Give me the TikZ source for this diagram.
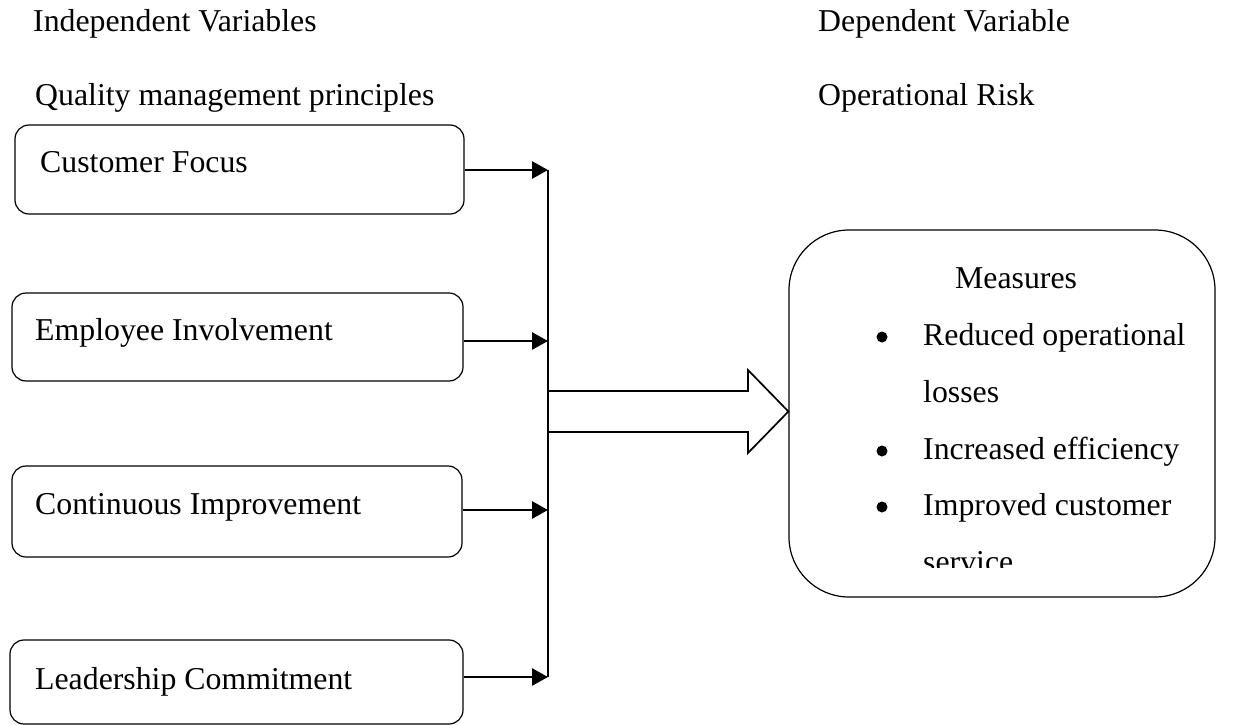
\documentclass[tikz,border=0pt]{standalone}
\usepackage{fontspec}
\setmainfont{Liberation Serif}
\usetikzlibrary{arrows.meta}
\begin{document}
\begin{tikzpicture}[x=1pt,y=-1pt,
  txt/.style={anchor=base west,inner sep=0pt,font=\fontsize{31.8}{38}\selectfont},
  box/.style={draw,line width=1.2pt,rounded corners=14pt,inner sep=0pt},
  arr/.style={line width=2.8pt,-{Triangle[length=16pt,width=17pt]}},
  bus/.style={line width=1.8pt},
  bullet/.style={circle,fill,inner sep=0pt,minimum size=11pt}]
\useasboundingbox (0,0) rectangle (1247,725);
% headers
\node[txt] (h1) at (33,32) {Independent Variables};
\node[txt] (h2) at (35,105) {Quality management principles};
\node[txt] (h3) at (818,32) {Dependent Variable};
\node[txt] (h4) at (818,105) {Operational Risk};
% left boxes
\node[box,minimum width=449pt,minimum height=89pt] (b1) at (239.5,169.5) {};
\node[box,minimum width=451pt,minimum height=88pt] (b2) at (237.5,337) {};
\node[box,minimum width=450pt,minimum height=91pt] (b3) at (237,511.5) {};
\node[box,minimum width=453pt,minimum height=84pt] (b4) at (236.5,682) {};
\node[txt] (t1) at (40,172) {Customer Focus};
\node[txt] (t2) at (35,340) {Employee Involvement};
\node[txt] (t3) at (35,514) {Continuous Improvement};
\node[txt] (t4) at (35,689) {Leadership Commitment};
% junctions
\coordinate (j1) at (548,170);
\coordinate (j2) at (548,341);
\coordinate (j3) at (548,510);
\coordinate (j4) at (548,677);
\draw[bus] (j1) -- (j4);
\draw[arr] (b1.east|-j1) -- (j1);
\draw[arr] (b2.east|-j2) -- (j2);
\draw[arr] (b3.east|-j3) -- (j3);
\draw[arr] (b4.east|-j4) -- (j4);
% right box
\node[draw,line width=1.2pt,rounded corners=60pt,inner sep=0pt,minimum width=426pt,minimum height=367pt] (m) at (1002,413.5) {};
% big arrow
\coordinate (a0) at (548,391);
\draw[line width=1.7pt,line join=miter] (a0) -- (748,391) -- (748,370) -- (m.west|-0,411.5) -- (748,453) -- (748,432) -- (548,432);
% texts in right box
\node[txt] (mt) at (955,288) {Measures};
\node[bullet] (d1) at (882,337) {};
\node[txt] (r1) at (923,345) {Reduced operational};
\node[txt] (r2) at (923,402) {losses};
\node[bullet] (d2) at (882,451) {};
\node[txt] (r3) at (923,459) {Increased efficiency};
\node[bullet] (d3) at (882,507) {};
\node[txt] (r4) at (923,515) {Improved customer};
\begin{scope}
\clip (900,530) rectangle (1150,567);
\node[txt] (r5) at (923,572) {service};
\end{scope}
\end{tikzpicture}
\end{document}
